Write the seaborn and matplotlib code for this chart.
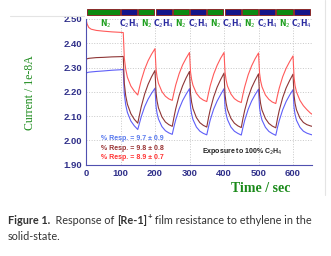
import pandas as pd
import matplotlib
matplotlib.use("Agg")
import matplotlib.pyplot as plt
from matplotlib.patches import Rectangle
from matplotlib.lines import Line2D
from matplotlib.ticker import MultipleLocator
import seaborn as sns

# time axis (sec) and the three current traces (1e-8 A)
time = [0, 3, 8, 15, 30, 50, 75, 100, 108,
        111, 115, 120, 130, 140, 150,
        155, 160, 170, 180, 190, 200,
        203, 206, 210, 220, 230, 240, 250,
        255, 260, 270, 280, 290, 300,
        303, 306, 310, 320, 330, 340, 350,
        355, 360, 370, 380, 390, 400,
        403, 406, 410, 420, 430, 440, 450,
        455, 460, 470, 480, 490, 500,
        503, 506, 510, 520, 530, 540, 550,
        555, 560, 570, 580, 590, 600,
        603, 606, 610, 620, 630, 640, 650, 655]

red = [2.500, 2.480, 2.465, 2.458, 2.453, 2.450, 2.447, 2.445, 2.444,
       2.340, 2.294, 2.260, 2.224, 2.203, 2.187,
       2.218, 2.247, 2.293, 2.328, 2.355, 2.378,
       2.293, 2.261, 2.235, 2.201, 2.182, 2.171, 2.165,
       2.198, 2.228, 2.275, 2.311, 2.338, 2.362,
       2.281, 2.251, 2.227, 2.194, 2.176, 2.166, 2.160,
       2.194, 2.225, 2.273, 2.309, 2.338, 2.362,
       2.280, 2.249, 2.224, 2.191, 2.172, 2.162, 2.156,
       2.191, 2.221, 2.270, 2.307, 2.336, 2.360,
       2.277, 2.246, 2.221, 2.187, 2.169, 2.158, 2.152,
       2.185, 2.215, 2.262, 2.297, 2.324, 2.348,
       2.260, 2.225, 2.200, 2.165, 2.143, 2.127, 2.113, 2.108]

brown = [2.333, 2.336, 2.338, 2.339, 2.341, 2.342, 2.344, 2.345, 2.346,
         2.235, 2.185, 2.149, 2.110, 2.087, 2.071,
         2.105, 2.138, 2.191, 2.231, 2.262, 2.288,
         2.196, 2.162, 2.134, 2.097, 2.076, 2.065, 2.058,
         2.096, 2.130, 2.185, 2.225, 2.257, 2.284,
         2.192, 2.158, 2.131, 2.094, 2.073, 2.062, 2.055,
         2.093, 2.126, 2.179, 2.219, 2.250, 2.277,
         2.187, 2.154, 2.127, 2.091, 2.071, 2.060, 2.053,
         2.091, 2.124, 2.177, 2.217, 2.247, 2.274,
         2.185, 2.152, 2.125, 2.090, 2.070, 2.059, 2.052,
         2.090, 2.123, 2.176, 2.216, 2.246, 2.273,
         2.185, 2.152, 2.126, 2.092, 2.074, 2.065, 2.060, 2.058]

blue = [2.276, 2.279, 2.281, 2.282, 2.284, 2.286, 2.289, 2.291, 2.292,
        2.192, 2.147, 2.115, 2.080, 2.060, 2.045,
        2.071, 2.097, 2.139, 2.170, 2.194, 2.215,
        2.139, 2.111, 2.088, 2.057, 2.040, 2.031, 2.025,
        2.057, 2.085, 2.130, 2.164, 2.190, 2.213,
        2.137, 2.109, 2.086, 2.055, 2.038, 2.029, 2.023,
        2.055, 2.084, 2.129, 2.162, 2.188, 2.213,
        2.137, 2.109, 2.086, 2.055, 2.038, 2.029, 2.022,
        2.054, 2.083, 2.128, 2.162, 2.188, 2.211,
        2.135, 2.107, 2.084, 2.054, 2.037, 2.028, 2.021,
        2.053, 2.081, 2.126, 2.160, 2.186, 2.209,
        2.134, 2.106, 2.083, 2.054, 2.038, 2.030, 2.025, 2.023]

# gas exposure sequence shown above the plot
gas_edges = [0, 100, 150, 200, 250, 300, 350, 400, 450, 500, 550, 600, 650]
gas_names = ["N2", "C2H4", "N2", "C2H4", "N2", "C2H4",
             "N2", "C2H4", "N2", "C2H4", "N2", "C2H4"]

resp_labels = ["% Resp. = 9.7 \u00b1 0.9", "% Resp. = 9.8 \u00b1 0.8", "% Resp. = 8.9 \u00b1 0.7"]

df = pd.DataFrame({"time": time * 3,
                   "current": blue + brown + red,
                   "trace": ["blue"] * len(time) + ["brown"] * len(time) + ["red"] * len(time)})
pal = {"blue": "#5f5ff8", "brown": "#8e3535", "red": "#ff5a5a"}

sns.set_style("white")
fig = plt.figure(figsize=(3.31, 2.56), dpi=100)
ax = fig.add_axes([86 / 331, 1 - 164.7 / 256, 226 / 331, 145.7 / 256])

sns.lineplot(data=df, x="time", y="current", hue="trace", palette=pal,
             estimator=None, lw=0.8, legend=False, ax=ax)

ax.set_xlim(0, 655)
ax.set_ylim(1.90, 2.50)
ax.xaxis.set_major_locator(MultipleLocator(100))
ax.xaxis.set_minor_locator(MultipleLocator(20))
ax.yaxis.set_major_locator(MultipleLocator(0.1))
ax.yaxis.set_minor_locator(MultipleLocator(0.02))
ax.yaxis.set_major_formatter(matplotlib.ticker.FormatStrFormatter("%.2f"))
ax.grid(True, which="major", ls=":", color="#c8c8c8", lw=0.7)
ax.set_xlabel("")
ax.set_ylabel("")
for s in ["top", "right"]:
    ax.spines[s].set_visible(False)
for s in ["left", "bottom"]:
    ax.spines[s].set_color("#5050b0")
    ax.spines[s].set_linewidth(0.8)
ax.tick_params(which="both", direction="inout", colors="#5050b0", labelcolor="#30308a")
ax.tick_params(which="major", length=3, width=0.7, labelsize=6.8, pad=1.5)
ax.tick_params(which="minor", length=1.6, width=0.5)
for lab in ax.get_xticklabels() + ax.get_yticklabels():
    lab.set_fontweight("bold")
    lab.set_family("Liberation Sans")

# exposure bars above the axes
trans = ax.get_xaxis_transform()
for i, name in enumerate(gas_names):
    x0, x1 = gas_edges[i], gas_edges[i + 1]
    col = "#0c8a10" if name == "N2" else "#14148a"
    ax.add_patch(Rectangle((x0 + 1.5, 1.028), x1 - x0 - 3, 0.042, transform=trans,
                           facecolor=col, edgecolor="#8a2a2a", lw=0.7, clip_on=False))
    txt = "N$_2$" if name == "N2" else "C$_2$H$_4$"
    tcol = "#20a020" if name == "N2" else "#2a2aa0"
    ax.text((x0 + x1) / 2 + (8 if name == "N2" and i == 0 else 0), 0.967, txt,
            transform=trans, ha="center", va="center", fontsize=5.5,
            color=tcol, fontweight="bold")

# response annotations
resp_cols = ["#5577ee", "#993333", "#ff3333"]
resp_y = [2.006, 1.967, 1.930]
for lab, c, y in zip(resp_labels, resp_cols, resp_y):
    ax.text(44, y, lab, color=c, fontsize=5, fontweight="bold",
            family="Liberation Sans", va="center", ha="left")
ax.text(335, 1.956, "Exposure to 100% C$_2$H$_4$", fontsize=5, fontweight="bold",
        family="Liberation Sans", va="center", ha="left", color="#222222")

# axis titles
fig.text(30 / 331, 1 - 93 / 256, "Current / 1e-8A", rotation=90, ha="center", va="center",
         color="#1a8a1a", fontsize=8.5, family="Liberation Serif")
fig.text(261 / 331, 1 - 188 / 256, "Time / sec", ha="center", va="center",
         color="#1a8a1a", fontsize=10, fontweight="bold", family="Liberation Serif")

# caption, drawn piece by piece to mix bold and regular
fig.canvas.draw()
rend = fig.canvas.get_renderer()
pieces = [("Figure 1.", "bold", 0), ("  Response of ", "normal", 0), ("[Re-1]", "bold", 0),
          ("+", "bold", 3.5), (" film resistance to ethylene in the", "normal", 0)]
x = 8
for s, w, dy in pieces:
    t = fig.text(x / 331, (256 - 220 + dy) / 256, s, fontsize=7.8 if dy == 0 else 5.5,
                 fontweight=w, family="Lato", color="#333333", va="center", ha="left")
    x = t.get_window_extent(rend).x1
fig.text(8 / 331, (256 - 237) / 256, "solid-state.", fontsize=7.8, family="Lato",
         color="#333333", va="center", ha="left")

# frame lines of the original image
fig.add_artist(Line2D([325 / 331, 325 / 331], [1, 1 - 195 / 256], color="#e4e4e4", lw=0.8))
fig.add_artist(Line2D([10 / 331, 84 / 331], [1 - 15.5 / 256, 1 - 15.5 / 256], color="#e4e4e4", lw=0.8))

fig.savefig("out.png", dpi=100)
